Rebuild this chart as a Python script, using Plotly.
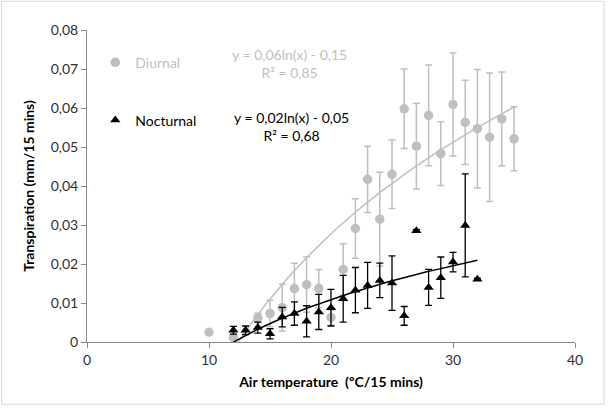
import numpy as np
import plotly.graph_objects as go

# Diurnal transpiration vs air temperature (means and standard deviations)
temp_day = [10, 12, 14, 15, 16, 17, 18, 19, 20, 21, 22, 23, 24, 25, 26, 27, 28, 29, 30, 31, 32, 33, 34, 35]
transp_day = [0.0025, 0.0011, 0.0062, 0.0073, 0.0088, 0.0137, 0.0147, 0.0137, 0.0063, 0.0186, 0.0291, 0.0417,
              0.0315, 0.0430, 0.0598, 0.0502, 0.0581, 0.0483, 0.0609, 0.0563, 0.0547, 0.0525, 0.0572, 0.0521]
sd_day = [0, 0, 0.0012, 0.0034, 0.0060, 0.0065, 0.0071, 0.0049, 0.0020, 0.0066, 0.0076, 0.0085,
          0.0120, 0.0088, 0.0102, 0.0110, 0.0129, 0.0082, 0.0132, 0.0108, 0.0152, 0.0165, 0.0120, 0.0082]

# Nocturnal transpiration vs air temperature
temp_night = [12, 13, 14, 15, 16, 17, 18, 19, 20, 21, 22, 23, 24, 25, 26, 27, 28, 29, 30, 31, 32]
transp_night = [0.0030, 0.0030, 0.0037, 0.0021, 0.0064, 0.0073, 0.0053, 0.0077, 0.0088, 0.0111, 0.0133,
                0.0145, 0.0158, 0.0151, 0.0067, 0.0285, 0.0140, 0.0165, 0.0205, 0.0299, 0.0161]
sd_night = [0.0010, 0.0011, 0.0014, 0.0013, 0.0025, 0.0030, 0.0040, 0.0045, 0.0047, 0.0060, 0.0058,
            0.0059, 0.0044, 0.0070, 0.0024, 0.0003, 0.0046, 0.0053, 0.0025, 0.0132, 0.0003]

# Logarithmic trendlines y = a*ln(x) + b
fit_day = (0.058, -0.146)
r2_day = 0.85
fit_night = (0.0214, -0.0532)
r2_night = 0.68

y_ticks = [0, 0.01, 0.02, 0.03, 0.04, 0.05, 0.06, 0.07, 0.08]
y_ticktext = ["0", "0,01", "0,02", "0,03", "0,04", "0,05", "0,06", "0,07", "0,08"]
x_ticks = [0, 10, 20, 30, 40]

GREY = "#BFBFBF"
FONT = "Lato"


def trend(xs, coef):
    xs = np.asarray(xs, dtype=float)
    return coef[0] * np.log(xs) + coef[1]


def eq_text(coef, r2):
    s = f"y = {coef[0]:.2f}ln(x) - {-coef[1]:.2f}<br>R² = {r2:.2f}"
    return s.replace(".", ",")


fig = go.Figure()

fig.add_trace(go.Scatter(
    x=temp_day, y=transp_day, mode="markers", name="Diurnal",
    marker=dict(symbol="circle", size=9.5, color=GREY),
    error_y=dict(type="data", array=sd_day, color=GREY, thickness=1.5, width=3.5),
    legend="legend",
))

xd = np.linspace(min(temp_day), max(temp_day), 300)
fig.add_trace(go.Scatter(
    x=xd, y=trend(xd, fit_day), mode="lines", showlegend=False,
    line=dict(color=GREY, width=1.5), hoverinfo="skip",
))

fig.add_trace(go.Scatter(
    x=temp_night, y=transp_night, mode="markers", name="Nocturnal",
    marker=dict(symbol="triangle-up", size=9, color="black"),
    error_y=dict(type="data", array=sd_night, color="black", thickness=1.3, width=3.5),
    legend="legend2",
))

xn = np.linspace(min(temp_night), max(temp_night), 300)
fig.add_trace(go.Scatter(
    x=xn, y=trend(xn, fit_night), mode="lines", showlegend=False,
    line=dict(color="black", width=1.5), hoverinfo="skip",
))

axis_common = dict(
    showgrid=False, zeroline=False, showline=True, linecolor="#868686", linewidth=1,
    ticks="outside", ticklen=5, tickcolor="#868686",
    tickfont=dict(family=FONT, size=14, color="#303030"),
)

fig.update_xaxes(
    range=[0, 40], tickvals=x_ticks,
    title=dict(text="<b>Air temperature \u00a0(ºC/15 mins)</b>", font=dict(family=FONT, size=14, color="black"), standoff=10),
    **axis_common,
)
fig.update_yaxes(
    range=[0, 0.08], tickvals=y_ticks, ticktext=y_ticktext,
    title=dict(text="<b>Transpiration (mm/15 mins)</b>", font=dict(family=FONT, size=14, color="black"), standoff=12),
    **axis_common,
)

fig.add_annotation(
    x=16.6, y=0.0714, xref="x", yref="y", text=eq_text(fit_day, r2_day), showarrow=False,
    align="center", font=dict(family=FONT, size=14, color=GREY),
)
fig.add_annotation(
    x=16.8, y=0.0552, xref="x", yref="y", text=eq_text(fit_night, r2_night), showarrow=False,
    align="center", font=dict(family=FONT, size=14, color="black"),
)

legend_common = dict(bgcolor="rgba(0,0,0,0)", itemwidth=30, xanchor="left", yanchor="middle", tracegroupgap=0)
fig.update_layout(
    width=610, height=409,
    margin=dict(l=87, r=35, t=30, b=67),
    plot_bgcolor="white", paper_bgcolor="white",
    separators=",.",
    showlegend=True,
    legend=dict(x=0.017, y=0.895, font=dict(family=FONT, size=14, color=GREY), **legend_common),
    legend2=dict(x=0.017, y=0.71, font=dict(family=FONT, size=14, color="black"), **legend_common),
    shapes=[dict(
        type="rect", xref="paper", yref="paper",
        x0=(1.5 - 87) / 488, x1=(604 - 87) / 488,
        y0=(341.7 - 404) / 312, y1=(341.7 - 1) / 312,
        line=dict(color="#D9D9D9", width=1), fillcolor="rgba(0,0,0,0)", layer="below",
    )],
)

fig.write_html("out.html")
